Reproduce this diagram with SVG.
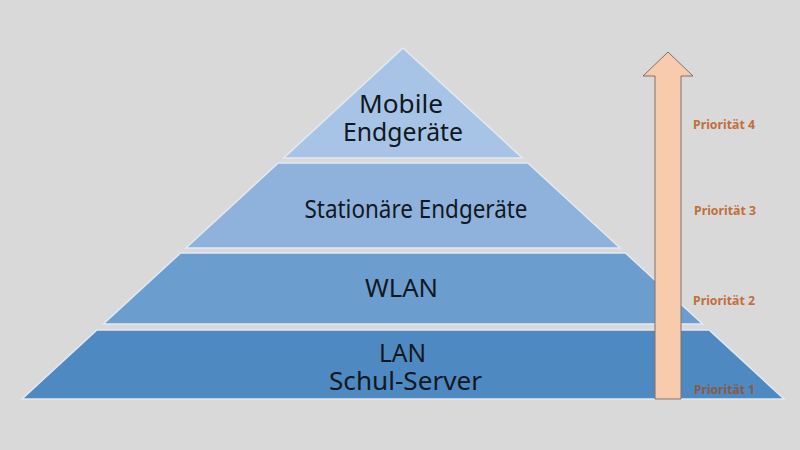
<svg xmlns="http://www.w3.org/2000/svg" width="800" height="450" viewBox="0 0 800 450">
<style>
.layer{stroke:#e4e9ef;stroke-width:1.5;stroke-linejoin:miter}
.lbl{font-family:"Noto Sans","Open Sans",sans-serif;font-size:25px;fill:#111820;text-anchor:middle}
.prio{font-family:"Noto Sans","Open Sans",sans-serif;font-size:12px;font-weight:bold;fill:#c0703a}
</style>
<rect width="800" height="450" fill="#d9d9d9"/>
<g id="layer-mobile">
<polygon class="layer" fill="#a7c4e7" points="403,48 522.4,158 283.6,158"/>
<text class="lbl"><tspan x="401" y="113" textLength="84" lengthAdjust="spacingAndGlyphs">Mobile</tspan><tspan x="403" y="141" textLength="120" lengthAdjust="spacingAndGlyphs">Endgeräte</tspan></text>
</g>
<g id="layer-stationaer">
<polygon class="layer" fill="#8eb2dc" points="278.2,163 527.8,163 620.1,248 185.9,248"/>
<text class="lbl" x="416" y="218" textLength="223" lengthAdjust="spacingAndGlyphs">Stationäre Endgeräte</text>
</g>
<g id="layer-wlan">
<polygon class="layer" fill="#6b9ecf" points="180.5,253 625.5,253 702.6,324 103.4,324"/>
<text class="lbl" x="401.5" y="297" textLength="73" lengthAdjust="spacingAndGlyphs">WLAN</text>
</g>
<g id="layer-lan">
<polygon class="layer" fill="#4f89c1" points="96.9,330 709.1,330 784,399 22,399"/>
<text class="lbl"><tspan x="402.5" y="362" textLength="47" lengthAdjust="spacingAndGlyphs">LAN</tspan><tspan x="405.5" y="390" textLength="153" lengthAdjust="spacingAndGlyphs">Schul-Server</tspan></text>
</g>
<g id="connectors">
<polygon id="priority-arrow" points="655,399 655,76 643,76 668,52 693,76 681,76 681,399" fill="#f8cbad" stroke="#7f7068" stroke-width="1"/>
</g>
<g id="priorities">
<text class="prio" x="693" y="129" textLength="62" lengthAdjust="spacingAndGlyphs">Priorität 4</text>
<text class="prio" x="694" y="215" textLength="62" lengthAdjust="spacingAndGlyphs">Priorität 3</text>
<text class="prio" x="693" y="305" textLength="62" lengthAdjust="spacingAndGlyphs">Priorität 2</text>
<text class="prio" x="694" y="394" textLength="61" lengthAdjust="spacingAndGlyphs" style="fill:#8a5a44">Priorität 1</text>
</g>
</svg>
